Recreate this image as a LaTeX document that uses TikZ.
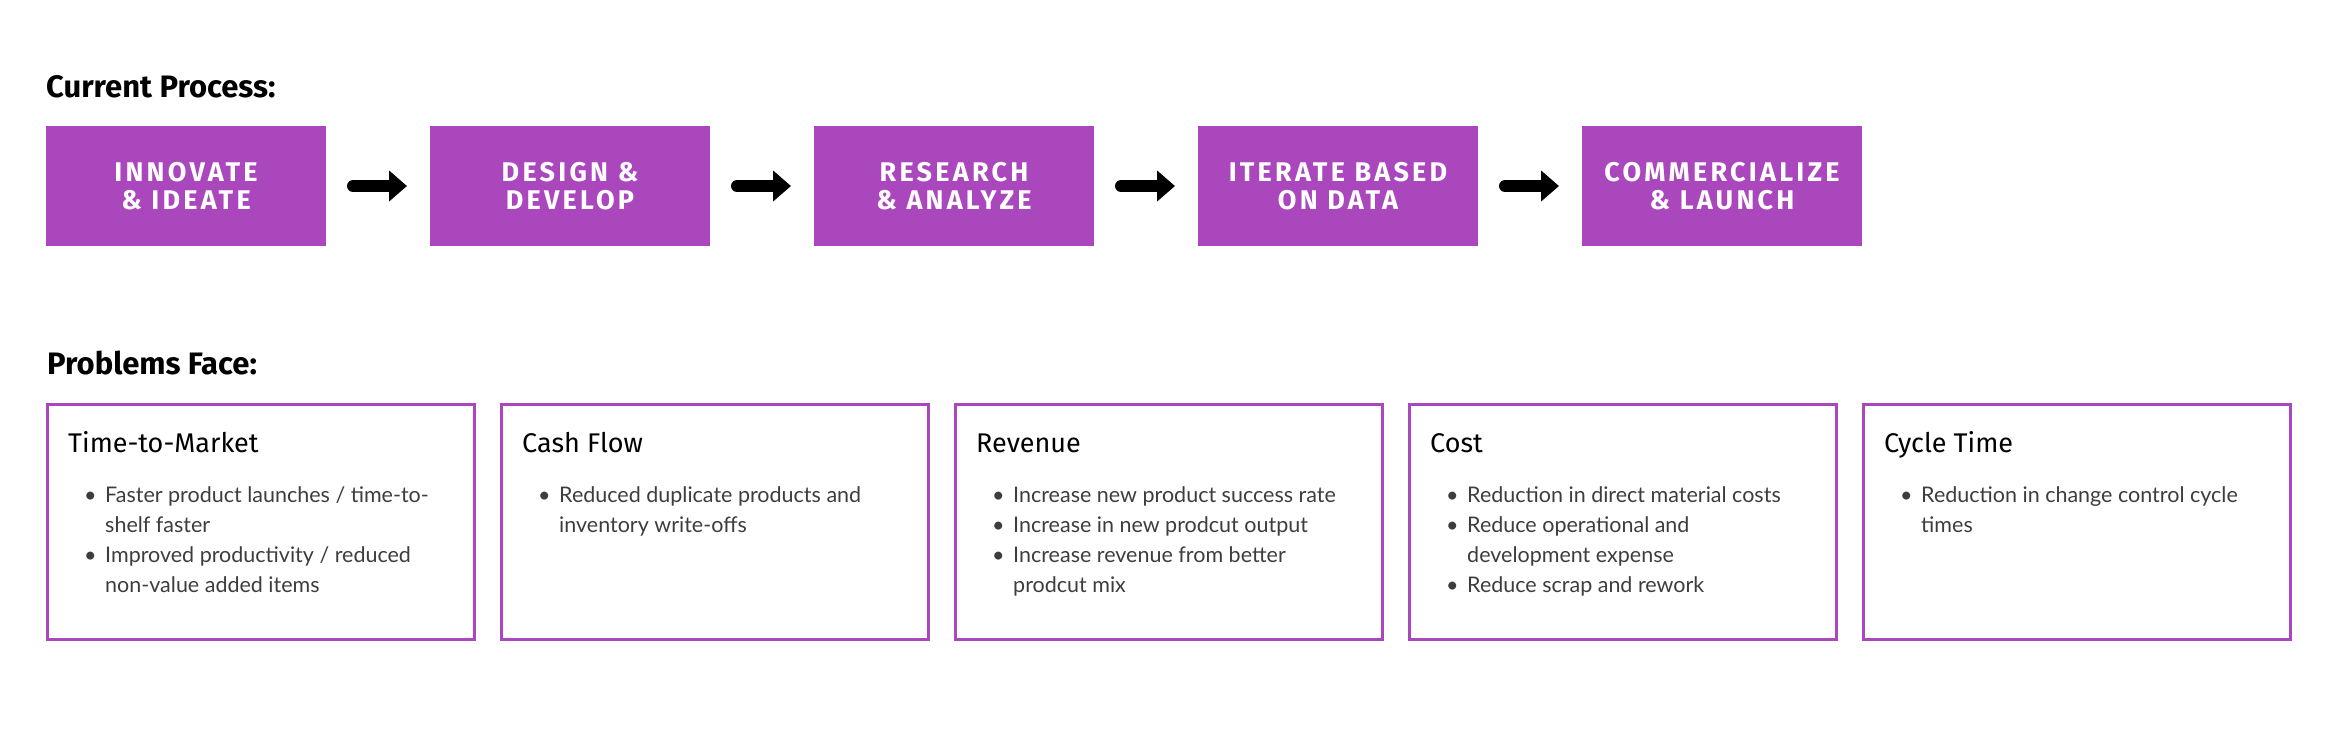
\documentclass[tikz,border=0pt]{standalone}
\usepackage{fontspec}
\usetikzlibrary{arrows.meta}
\setmainfont{Lato}
\newfontfamily\headfont{Fira Sans}
\newfontfamily\stagefont{Fira Sans}[LetterSpace=12]
\definecolor{procpurple}{HTML}{AB47BC}
\definecolor{bodygray}{HTML}{3D3D3D}
\newcommand{\itm}{\makebox[21pt][l]{\textbullet}}
\newcommand{\cnt}{\hspace*{21pt}}

\begin{document}
\begin{tikzpicture}
  [x=1pt,y=-1pt,
   stage/.style={fill=procpurple,minimum width=280pt,minimum height=120pt,inner sep=0pt,outer sep=0pt,
     text=white,align=center,font={\stagefont\bfseries\fontsize{27}{28}\selectfont}},
   issue/.style={draw=procpurple,line width=3pt,minimum width=427pt,minimum height=235pt,inner sep=0pt,outer sep=0pt},
   heading/.style={anchor=base west,inner sep=0pt,font={\headfont\bfseries\fontsize{31}{34}\selectfont}},
   issuetitle/.style={anchor=base west,inner sep=0pt,font={\headfont\fontsize{27}{30}\selectfont}},
   issuelist/.style={anchor=base west,inner sep=0pt,text=bodygray,font={\fontsize{21.5}{30}\selectfont}},
   flow/.style={line width=12pt,line cap=round,-{Triangle[length=18pt,width=30pt]},shorten <=27pt,shorten >=23pt}]
  \useasboundingbox (0,0) rectangle (2342,730);

  \node[heading] (cur) at (46,98) {Current Process:};
  \node[stage] (p1) at (186,186)  {INNOVATE\\\& IDEATE};
  \node[stage] (p2) at (570,186)  {DESIGN \&\\DEVELOP};
  \node[stage] (p3) at (954,186)  {RESEARCH\\\& ANALYZE};
  \node[stage] (p4) at (1338,186) {ITERATE BASED\\ON DATA};
  \node[stage] (p5) at (1722,186) {COMMERCIALIZE\\\& LAUNCH};

  \foreach \from/\to in {p1/p2,p2/p3,p3/p4,p4/p5}
    \draw[flow] (\from) -- (\to);

  \node[heading] (prob) at (47,374) {Problems Face:};
  \node[issue] (q1) at (261,522) {};
  \node[issue] (q2) at (715,522) {};
  \node[issue] (q3) at (1169,522) {};
  \node[issue] (q4) at (1623,522) {};
  \node[issue] (q5) at (2077,522) {};

  \node[issuetitle] (t1) at (68,452)   {Time-to-Market};
  \node[issuetitle] (t2) at (522,452)  {Cash Flow};
  \node[issuetitle] (t3) at (976,452)  {Revenue};
  \node[issuetitle] (t4) at (1430,452) {Cost};
  \node[issuetitle] (t5) at (1884,452) {Cycle Time};

  \node[issuelist] (l1) at (84,502) {\begin{tabular}[t]{@{}l@{}}
    \itm Faster product launches / time-to-\\ \cnt shelf faster\\
    \itm Improved productivity / reduced\\ \cnt non-value added items\end{tabular}};
  \node[issuelist] (l2) at (538,502) {\begin{tabular}[t]{@{}l@{}}
    \itm Reduced duplicate products and\\ \cnt inventory write-offs\end{tabular}};
  \node[issuelist] (l3) at (992,502) {\begin{tabular}[t]{@{}l@{}}
    \itm Increase new product success rate\\
    \itm Increase in new prodcut output\\
    \itm Increase revenue from better\\ \cnt prodcut mix\end{tabular}};
  \node[issuelist] (l4) at (1446,502) {\begin{tabular}[t]{@{}l@{}}
    \itm Reduction in direct material costs\\
    \itm Reduce operational and\\ \cnt development expense\\
    \itm Reduce scrap and rework\end{tabular}};
  \node[issuelist] (l5) at (1900,502) {\begin{tabular}[t]{@{}l@{}}
    \itm Reduction in change control cycle\\ \cnt times\end{tabular}};
\end{tikzpicture}
\end{document}
